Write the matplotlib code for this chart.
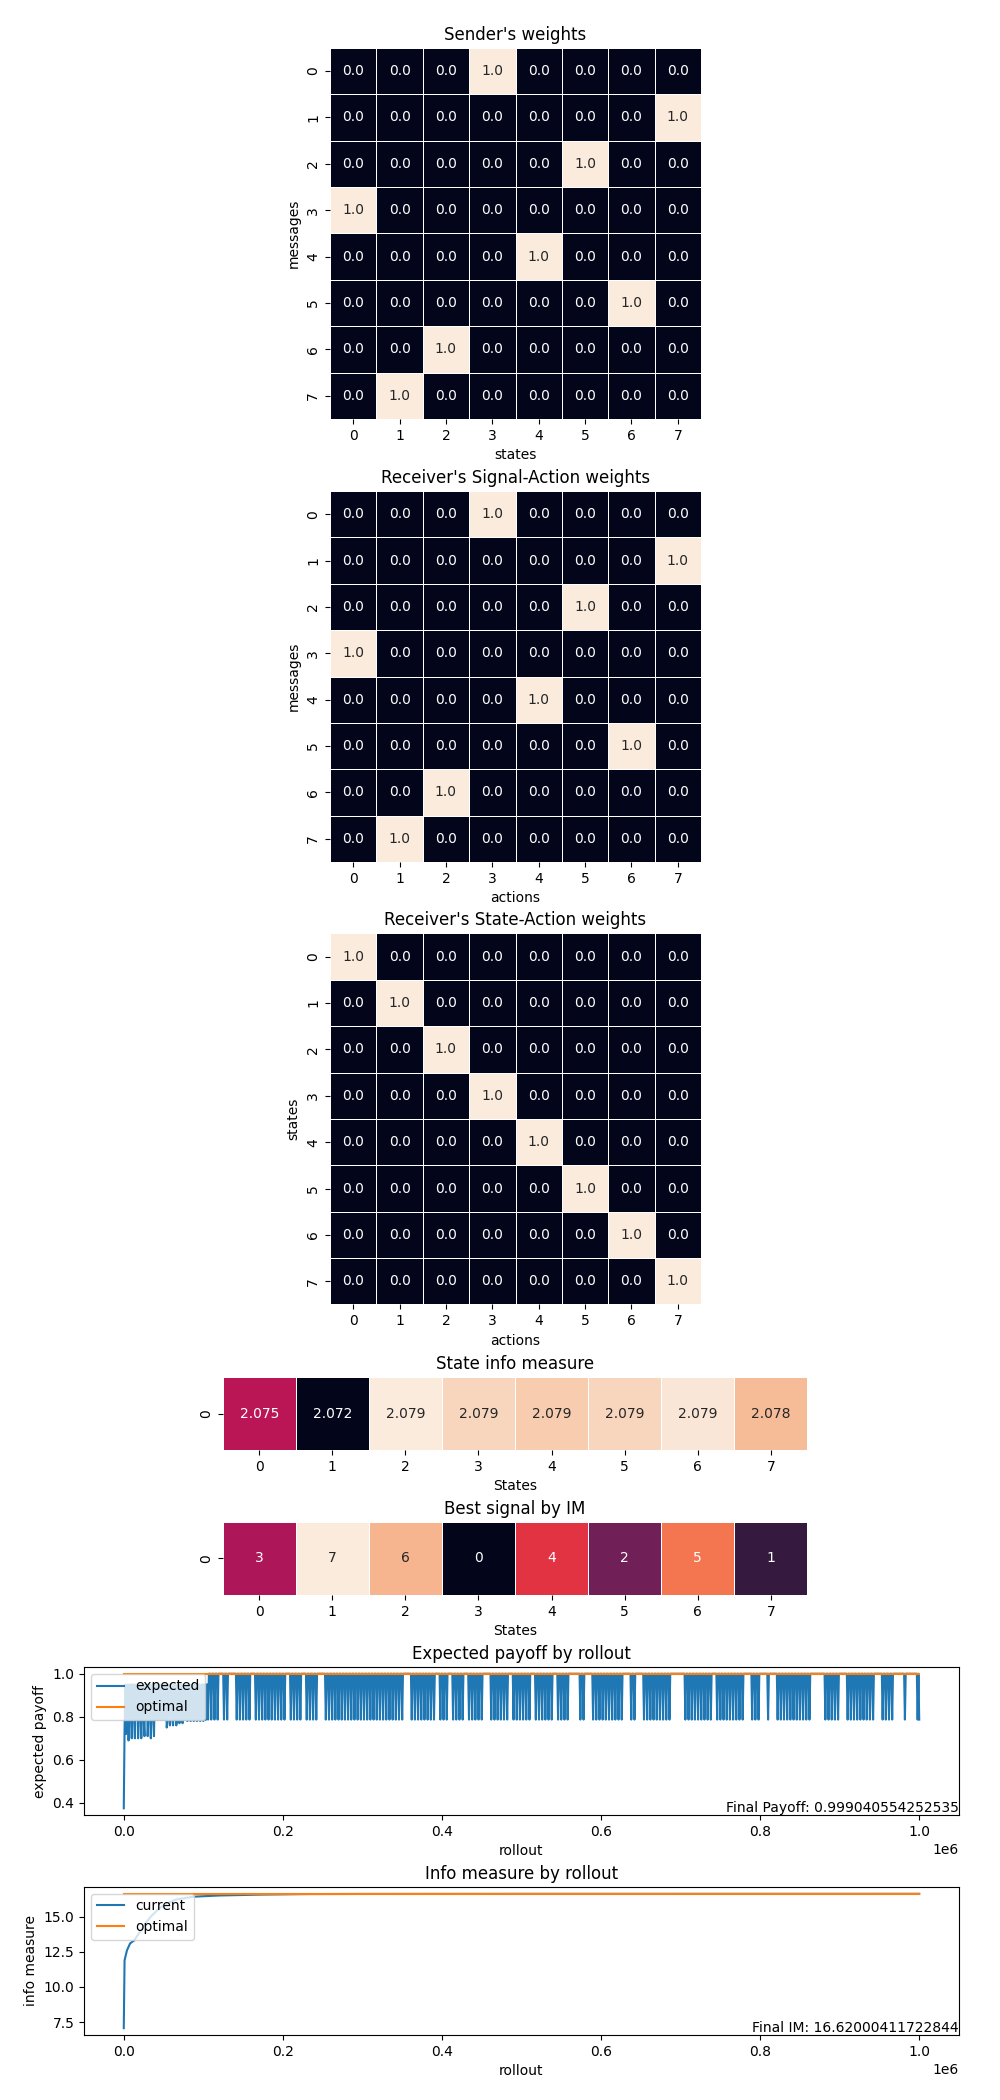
import matplotlib
matplotlib.use("Agg")
import matplotlib.pyplot as plt
import numpy as np
import seaborn as sns

# ---- data ----
sender_w = [
    [0, 0, 0, 1, 0, 0, 0, 0],
    [0, 0, 0, 0, 0, 0, 0, 1],
    [0, 0, 0, 0, 0, 1, 0, 0],
    [1, 0, 0, 0, 0, 0, 0, 0],
    [0, 0, 0, 0, 1, 0, 0, 0],
    [0, 0, 0, 0, 0, 0, 1, 0],
    [0, 0, 1, 0, 0, 0, 0, 0],
    [0, 1, 0, 0, 0, 0, 0, 0],
]
recv_signal_action = [
    [0, 0, 0, 1, 0, 0, 0, 0],
    [0, 0, 0, 0, 0, 0, 0, 1],
    [0, 0, 0, 0, 0, 1, 0, 0],
    [1, 0, 0, 0, 0, 0, 0, 0],
    [0, 0, 0, 0, 1, 0, 0, 0],
    [0, 0, 0, 0, 0, 0, 1, 0],
    [0, 0, 1, 0, 0, 0, 0, 0],
    [0, 1, 0, 0, 0, 0, 0, 0],
]
recv_state_action = [
    [1, 0, 0, 0, 0, 0, 0, 0],
    [0, 1, 0, 0, 0, 0, 0, 0],
    [0, 0, 1, 0, 0, 0, 0, 0],
    [0, 0, 0, 1, 0, 0, 0, 0],
    [0, 0, 0, 0, 1, 0, 0, 0],
    [0, 0, 0, 0, 0, 1, 0, 0],
    [0, 0, 0, 0, 0, 0, 1, 0],
    [0, 0, 0, 0, 0, 0, 0, 1],
]
state_im = [2.0753, 2.0720, 2.0792, 2.0788, 2.0786, 2.0788, 2.0791, 2.0783]
best_signal = [3, 7, 6, 0, 4, 2, 5, 1]

# expected payoff (thousand rollouts)
# early phase: flicker between ~0.785 and early_high, with isolated deeper dips
early_low = 0.785
early_high = 0.95
dip_k = [1, 3, 6, 10, 14, 18, 22, 26, 30, 34, 38, 54, 58, 62, 66, 70, 74,
         80, 84, 88, 92, 96, 100]
dip_val = [0.74, 0.72, 0.69, 0.70, 0.70, 0.70, 0.70, 0.71, 0.71, 0.70, 0.71, 0.75, 0.76,
           0.76, 0.76, 0.77, 0.77, 0.78, 0.78, 0.78, 0.78, 0.78, 0.78]
# later: flicker between main_low and 1.0, except in these quiet gaps (stays at 1.0)
main_low = 0.787
gap_start = [115, 121, 133, 161, 205, 224, 242, 272, 326, 353, 374, 393, 408, 429, 452,
             483, 513, 539, 560, 578, 628, 645, 689, 738, 779, 799, 811, 864, 900, 945,
             969, 985]
gap_end = [118, 123, 142, 163, 207, 228, 252, 274, 330, 361, 377, 398, 414, 432, 460,
           488, 517, 545, 574, 590, 637, 653, 706, 746, 787, 808, 819, 880, 908, 953,
           982, 996]
payoff_start = 0.375
optimal_payoff = 1.0
final_payoff = 0.999040554252535

im_rollout_k = [0, 1, 4, 8, 13, 20, 27, 34, 45, 55, 65, 80, 90, 120, 170, 230, 300, 500, 1000]
im_current = [7.07, 11.9, 12.6, 13.1, 13.3, 13.9, 14.5, 15.0, 15.6, 15.95, 16.2, 16.35,
              16.42, 16.5, 16.56, 16.6, 16.61, 16.618, 16.62]
optimal_im = 16.636
final_im = 16.62000411722844

# ---- build payoff trace (one sample per 1000 rollouts) ----
rk = np.arange(0, 1001)
payoff = np.ones(len(rk))


def flicker(s, e, lo, hi, every):
    idx = np.where((rk >= s) & (rk <= e))[0]
    payoff[idx] = hi
    payoff[idx[0::every]] = lo


flicker(1, 105, early_low, early_high, 3)
flicker(106, 1000, main_low, 1.0, 4)
for s, e in zip(gap_start, gap_end):
    payoff[(rk > s) & (rk < e)] = 1.0
payoff[np.array(dip_k)] = dip_val
payoff[0] = payoff_start
payoff[-1] = main_low
rollout = rk * 1000

fig = plt.figure(figsize=(10, 21), dpi=100)


def heat(rect, data, title, xlabel, ylabel, fmt):
    ax = fig.add_axes(rect)
    sns.heatmap(np.array(data), ax=ax, annot=True, fmt=fmt,
                linewidths=0.5, cbar=False, square=True)
    ax.set_title(title)
    ax.set_xlabel(xlabel)
    if ylabel:
        ax.set_ylabel(ylabel)
    return ax


heat([0.330, 0.8005, 0.371, 0.1767], np.array(sender_w, dtype=float), "Sender's weights",
     "states", "messages", ".1f")
heat([0.330, 0.5895, 0.371, 0.1767], np.array(recv_signal_action, dtype=float),
     "Receiver's Signal-Action weights", "actions", "messages", ".1f")
heat([0.330, 0.3788, 0.371, 0.1767], np.array(recv_state_action, dtype=float),
     "Receiver's State-Action weights", "actions", "states", ".1f")
heat([0.218, 0.3095, 0.594, 0.0348], [state_im], "State info measure", "States", None, ".3f")
heat([0.218, 0.2405, 0.594, 0.0348], [best_signal], "Best signal by IM", "States", None, "d")

ax = fig.add_axes([0.084, 0.1357, 0.875, 0.0705])
ax.plot(rollout, payoff, label="expected")
ax.plot([rollout[0], rollout[-1]], [optimal_payoff, optimal_payoff], label="optimal")
ax.set_title("Expected payoff by rollout")
ax.set_xlabel("rollout"); ax.set_ylabel("expected payoff")
ax.legend(loc="upper left")
ax.text(1.0, 0.0, f"Final Payoff: {final_payoff}", transform=ax.transAxes,
        ha="right", va="bottom")

ax = fig.add_axes([0.084, 0.031, 0.875, 0.0705])
ax.plot(np.array(im_rollout_k) * 1000, im_current, label="current")
ax.plot([0, 1000000], [optimal_im, optimal_im], label="optimal")
ax.set_title("Info measure by rollout")
ax.set_xlabel("rollout"); ax.set_ylabel("info measure")
ax.legend(loc="upper left")
ax.text(1.0, 0.0, f"Final IM: {final_im}", transform=ax.transAxes,
        ha="right", va="bottom")

fig.savefig("out.png", dpi=100)
